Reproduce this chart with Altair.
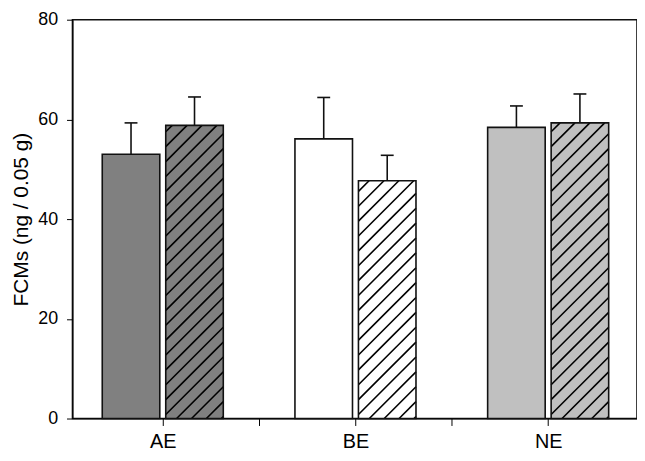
import altair as alt
import pandas as pd
import math

# ---- data ----
groups = ["AE", "BE", "NE"]
solid_means = [53.0, 56.1, 58.4]
solid_errs = [6.3, 8.3, 4.3]
hatched_means = [58.8, 47.7, 59.3]
hatched_errs = [5.7, 5.1, 5.8]
fills = ["#808080", "#ffffff", "#c0c0c0"]
y_ticks = [0, 20, 40, 60, 80]

# ---- layout ----
TOP = 10
W, H = 569, 412 - TOP
X0, X1 = 0.5315, 3.461
Y0, Y1 = 0, 80
PXX = W / (X1 - X0)
PXY = H / (Y1 - Y0)
half_gap = 3 / PXX
bar_w = 58 / PXX
cap_half = 6.5 / PXX
hatch_step = 15.0

rows = []
for i, g in enumerate(groups):
    c = i + 1
    rows.append(dict(group=g, kind="solid", x=c - half_gap - bar_w, x2=c - half_gap,
                     mean=solid_means[i], err=solid_errs[i], fill=fills[i]))
    rows.append(dict(group=g, kind="hatched", x=c + half_gap, x2=c + half_gap + bar_w,
                     mean=hatched_means[i], err=hatched_errs[i], fill=fills[i]))
bars = pd.DataFrame(rows)
bars["base"] = 0.0
bars["xc"] = (bars["x"] + bars["x2"]) / 2
bars["cl"] = bars["xc"] - cap_half
bars["cr"] = bars["xc"] + cap_half
bars["top"] = bars["mean"] + bars["err"]

# hatch segments (45 degree "/" lines in pixel space), clipped to each hatched bar
seg = []
for _, r in bars[bars.kind == "hatched"].iterrows():
    Wp = (r.x2 - r.x) * PXX
    Hp = r["mean"] * PXY
    k = math.floor(-Wp / hatch_step) - 1
    while k * hatch_step < Hp + hatch_step:
        cc = k * hatch_step + 4
        u0 = max(0.0, -cc)
        u1 = min(Wp, Hp - cc)
        if u1 > u0 + 0.5:
            seg.append(dict(x=r.x + u0 / PXX, x2=r.x + u1 / PXX,
                            y=(u0 + cc) / PXY, y2=(u1 + cc) / PXY))
        k += 1
hatch = pd.DataFrame(seg)

FONT = "Liberation Sans"
xscale = alt.Scale(domain=[X0, X1], nice=False, zero=False)
yscale = alt.Scale(domain=[Y0, Y1], nice=False)
xaxis = alt.Axis(values=[1, 1.5, 2, 2.5, 3], title=None, grid=False,
                 labelExpr="datum.value == 1 ? 'AE' : datum.value == 2 ? 'BE' : datum.value == 3 ? 'NE' : ''",
                 tickSize=7, labelPadding=6, labelFontSize=20, labelFont=FONT,
                 labelColor="black", tickColor="black", domainColor="black",
                 labelFlush=False, labelOverlap=False)
yaxis = alt.Axis(values=y_ticks, title="FCMs (ng / 0.05 g)", grid=False,
                 tickSize=6, labelPadding=9, labelFontSize=18, labelFont=FONT,
                 titleFont=FONT, titleFontSize=21, titleFontWeight="normal",
                 titlePadding=6, labelColor="black", titleColor="black",
                 tickColor="black", domainColor="black")

fill_layer = alt.Chart(bars).mark_bar(strokeWidth=0).encode(
    x=alt.X("x:Q", scale=xscale, axis=xaxis), x2="x2:Q",
    y=alt.Y("mean:Q", scale=yscale, axis=yaxis), y2="base:Q",
    fill=alt.Fill("fill:N", scale=None),
)
hatch_layer = alt.Chart(hatch).mark_rule(color="black", strokeWidth=1.6).encode(
    x=alt.X("x:Q", scale=xscale), x2="x2:Q",
    y=alt.Y("y:Q", scale=yscale), y2="y2:Q",
)
outline_layer = alt.Chart(bars).mark_bar(fillOpacity=0, stroke="#111", strokeWidth=1.6).encode(
    x=alt.X("x:Q", scale=xscale), x2="x2:Q",
    y=alt.Y("mean:Q", scale=yscale), y2="base:Q",
)
err_layer = alt.Chart(bars).mark_rule(color="#111", strokeWidth=1.6).encode(
    x=alt.X("xc:Q", scale=xscale),
    y=alt.Y("mean:Q", scale=yscale), y2="top:Q",
)
cap_layer = alt.Chart(bars).mark_rule(color="#111", strokeWidth=1.6).encode(
    x=alt.X("cl:Q", scale=xscale), x2="cr:Q",
    y=alt.Y("top:Q", scale=yscale),
)

chart = alt.layer(fill_layer, hatch_layer, outline_layer, err_layer, cap_layer).properties(
    width=W, height=H,
    autosize=alt.AutoSizeParams(type="none"),
    padding={"left": 65, "top": TOP, "right": 0, "bottom": 38},
    background="white",
).configure_view(stroke="#111", strokeWidth=1.6)

chart.save("out.html", embed_options={"renderer": "svg", "actions": False})
